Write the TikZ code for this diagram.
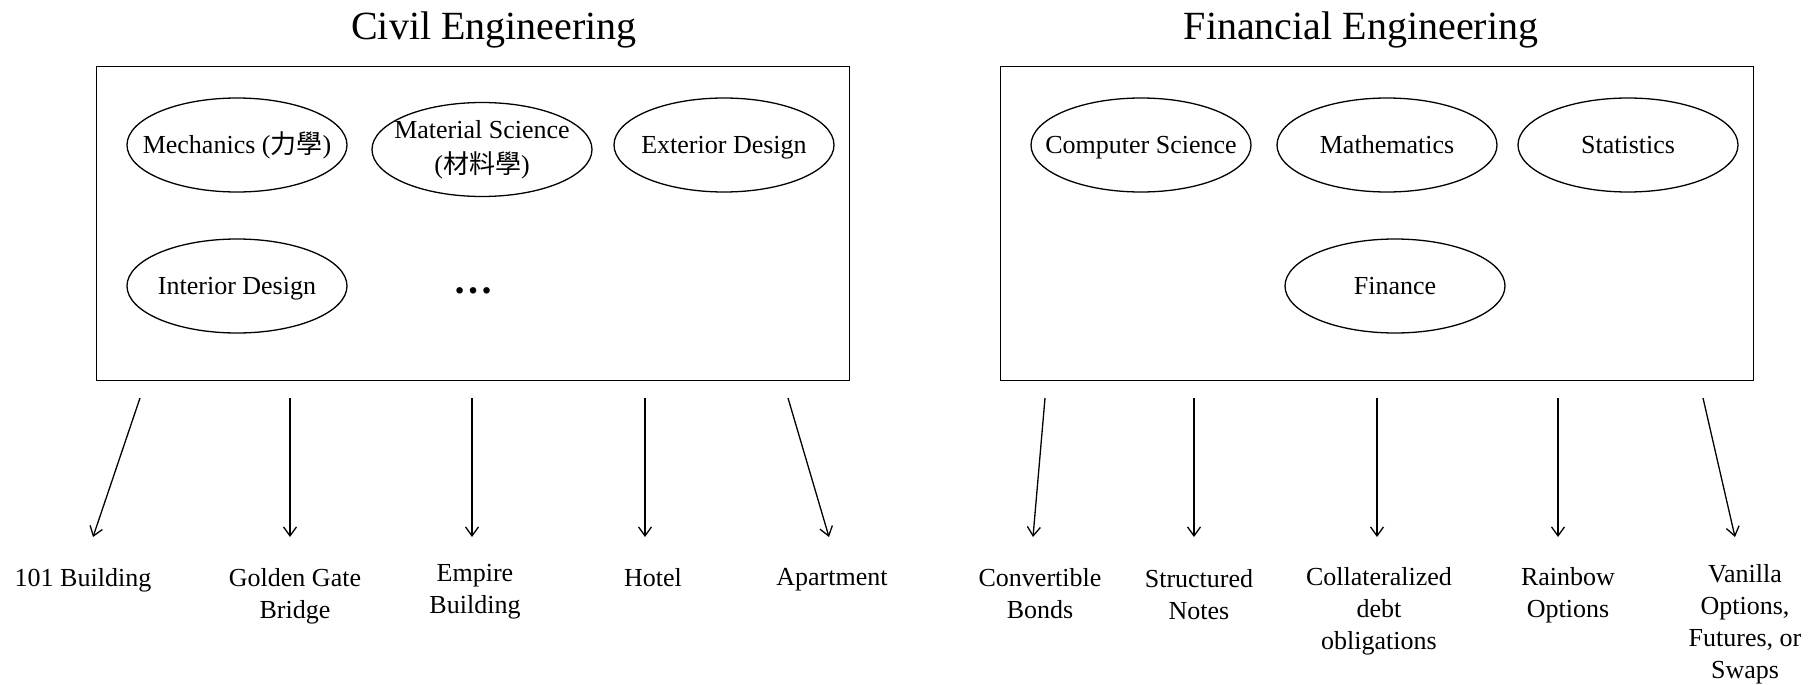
\documentclass[tikz,border=0pt]{standalone}
\usepackage{fontspec}
\setmainfont{Liberation Serif}
\newfontfamily\cjk{Noto Sans CJK TC}
\usetikzlibrary{shapes.geometric,arrows.meta}
% zero-width centred line, so the ellipse keeps its fixed size
\newcommand{\zw}[1]{\makebox[0pt][c]{#1}}
\begin{document}
\begin{tikzpicture}[x=1pt,y=-1pt,
  field/.style={ellipse,draw,line width=1.3pt,minimum width=220pt,minimum height=94pt,
    inner sep=0pt,font=\fontsize{26}{32}\selectfont,align=center},
  oneline/.style={text height=22pt,text depth=5pt},
  frame/.style={draw,line width=1.4pt,inner sep=0pt,anchor=north west,
    minimum width=753pt,minimum height=314pt},
  title/.style={font=\fontsize{40}{48}\selectfont,anchor=base,inner sep=0pt},
  product/.style={font=\fontsize{26}{32}\selectfont,align=center,anchor=north,inner sep=0pt},
  link/.style={line width=1.3pt,-{Straight Barb[length=9pt,width=13pt]}}]
\useasboundingbox (0,0) rectangle (1820,685);

% ---- Civil engineering ----
\node[title] (civilT) at (494,40) {Civil Engineering};
\node[frame] (civil) at (96,66) {};
\node[field,oneline] (mech) at (237,145) {\zw{Mechanics ({\cjk 力學})}};
\node[field] (mat) at (482,149.5) {\zw{Material Science}\\[3pt]\zw{({\cjk 材料學})}};
\node[field,oneline] (ext) at (724,145) {\zw{Exterior Design}};
\node[field,oneline] (int) at (237,286) {\zw{Interior Design}};
\node[font=\fontsize{40}{48}\selectfont\bfseries,inner sep=0pt] (more) at (473,291) {…};

\node[product] (p101) at (83,568) {101 Building};
\node[product] (pgg) at (295,568) {Golden Gate\\Bridge};
\node[product] (pemp) at (475,564) {Empire\\Building};
\node[product] (phot) at (653,568) {Hotel};
\node[product] (papt) at (832,568) {Apartment};

\coordinate (cs1) at (140,398);  \coordinate (ce1) at (93,537);
\coordinate (cs2) at (290,398);  \coordinate (ce2) at (290,537);
\coordinate (cs3) at (472,398);  \coordinate (ce3) at (472,537);
\coordinate (cs4) at (645,398);  \coordinate (ce4) at (645,537);
\coordinate (cs5) at (788,398);  \coordinate (ce5) at (829,537);
\foreach \i in {1,...,5} \draw[link] (cs\i) -- (ce\i);

% ---- Financial engineering ----
\node[title] (finT) at (1361,40) {Financial Engineering};
\node[frame] (fin) at (1000,66) {};
\node[field,oneline] (cs) at (1141,145) {\zw{Computer Science}};
\node[field,oneline] (math) at (1387,145) {\zw{Mathematics}};
\node[field,oneline] (stat) at (1628,145) {\zw{Statistics}};
\node[field,oneline] (finance) at (1395,286) {\zw{Finance}};

\node[product] (pcb) at (1040,568) {Convertible\\Bonds};
\node[product] (psn) at (1199,569) {Structured\\Notes};
\node[product] (pcdo) at (1379,567) {Collateralized\\debt\\obligations};
\node[product] (prb) at (1568,567) {Rainbow\\Options};
\node[product] (pvan) at (1745,564) {Vanilla\\Options,\\Futures, or\\Swaps};

\coordinate (fs1) at (1045,398); \coordinate (fe1) at (1033,537);
\coordinate (fs2) at (1194,398); \coordinate (fe2) at (1194,537);
\coordinate (fs3) at (1377,398); \coordinate (fe3) at (1377,537);
\coordinate (fs4) at (1558,398); \coordinate (fe4) at (1558,537);
\coordinate (fs5) at (1703,398); \coordinate (fe5) at (1735,537);
\foreach \i in {1,...,5} \draw[link] (fs\i) -- (fe\i);
\end{tikzpicture}
\end{document}
